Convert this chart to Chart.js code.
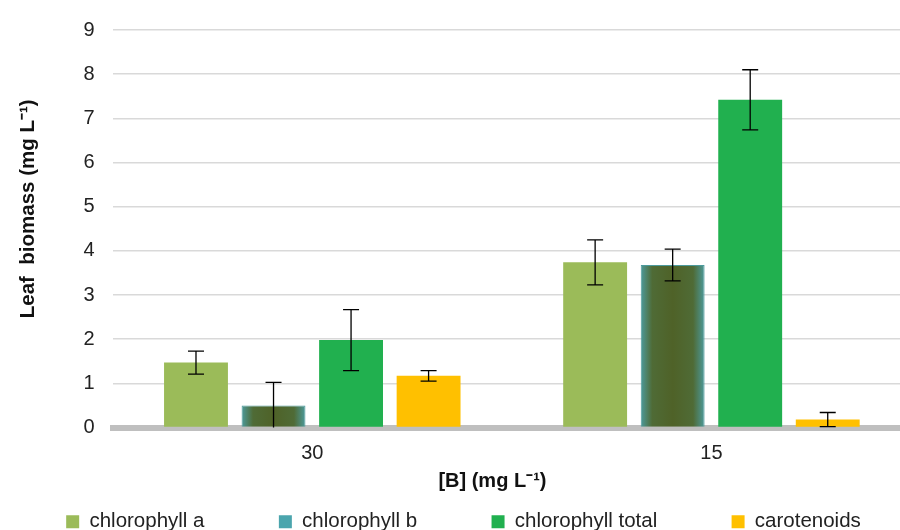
<!DOCTYPE html>
<html lang="en">
<head>
<meta charset="utf-8" />
<title>Leaf biomass</title>
<script src="https://cdn.jsdelivr.net/npm/chart.js@4.4.1/dist/chart.umd.min.js"></script>
<style>
  html, body { margin: 0; padding: 0; background: #fff; overflow: hidden; }
  #wrap { width: 916px; height: 542px; }
</style>
</head>
<body>
<div id="wrap"><canvas id="chart"></canvas></div>
<script>
  const categories = ["30", "15"];
  const chlA = [1.47, 3.74];
  const chlAErr = [0.26, 0.51];
  const chlB = [0.5, 3.68];
  const chlBErr = [0.52, 0.36];
  const chlTotal = [1.98, 7.42];
  const chlTotalErr = [0.69, 0.68];
  const carot = [1.17, 0.18];
  const carotErr = [0.12, 0.16];
  const yTicks = [0, 1, 2, 3, 4, 5, 6, 7, 8, 9];

  const FONT = "Arial, 'Liberation Sans', sans-serif";
  const TEXT = "#222";

  // chlorophyll b: teal edges fading into a dark olive centre
  function chlBFill(c) {
    const bar = c.chart.getDatasetMeta(1).data[c.dataIndex];
    if (!bar || !isFinite(bar.x) || !bar.width) return "#4f6228";
    const l = bar.x - bar.width / 2, r = bar.x + bar.width / 2;
    const g = c.chart.ctx.createLinearGradient(l, 0, r, 0);
    g.addColorStop(0, "#4c9a9c");
    g.addColorStop(0.18, "#4f6b36");
    g.addColorStop(0.5, "#4f6228");
    g.addColorStop(0.82, "#4f6b36");
    g.addColorStop(1, "#4c9a9c");
    return g;
  }

  const gradientFill = {
    id: "gradientFill",
    beforeDatasetsDraw(chart) {
      chart.getDatasetMeta(1).data.forEach((bar, j) => {
        bar.options.backgroundColor = chlBFill({ chart, dataIndex: j });
      });
    },
  };

  const errorBars = {
    id: "errorBars",
    afterDatasetsDraw(chart) {
      const ctx = chart.ctx;
      const y = chart.scales.y;
      ctx.save();
      ctx.strokeStyle = "#000";
      ctx.lineWidth = 1.3;
      chart.data.datasets.forEach((ds, i) => {
        chart.getDatasetMeta(i).data.forEach((bar, j) => {
          const v = ds.data[j], e = ds.errors[j];
          const top = y.getPixelForValue(v + e);
          const bot = y.getPixelForValue(Math.max(v - e, 0));
          ctx.beginPath();
          ctx.moveTo(bar.x, top); ctx.lineTo(bar.x, bot);
          ctx.moveTo(bar.x - 8, top); ctx.lineTo(bar.x + 8, top);
          if (v - e > 0) { ctx.moveTo(bar.x - 8, bot); ctx.lineTo(bar.x + 8, bot); }
          ctx.stroke();
        });
      });
      ctx.restore();
    },
  };

  const sp = (n) => " ".repeat(n);

  new Chart(document.getElementById("chart"), {
    type: "bar",
    data: {
      labels: categories,
      datasets: [
        { label: "chlorophyll a" + sp(12), data: chlA, errors: chlAErr, backgroundColor: "#9bbb59" },
        { label: "chlorophyll b" + sp(12), data: chlB, errors: chlBErr, backgroundColor: chlBFill, borderColor: "#4c9a9c", borderWidth: 1, legendColor: "#4ba5ad" },
        { label: "chlorophyll total" + sp(12), data: chlTotal, errors: chlTotalErr, backgroundColor: "#21b04f" },
        { label: "carotenoids", data: carot, errors: carotErr, backgroundColor: "#ffc000" },
      ],
    },
    options: {
      responsive: true,
      maintainAspectRatio: false,
      animation: false,
      layout: { padding: { top: 6, right: 5, left: 16, bottom: 0 } },
      datasets: { bar: { categoryPercentage: 0.777, barPercentage: 0.824 } },
      scales: {
        x: {
          grid: { display: false, drawTicks: false },
          border: { color: "#bfbfbf", width: 6 },
          ticks: { color: TEXT, font: { family: FONT, size: 20 }, padding: 14 },
          title: {
            display: true,
            text: "[B] (mg L⁻¹)" + sp(7),
            color: "#111",
            font: { family: FONT, size: 20, weight: "bold" },
            padding: { top: -10, bottom: 12 },
          },
        },
        y: {
          min: 0,
          max: 9,
          afterBuildTicks: (axis) => { axis.ticks = yTicks.map((v) => ({ value: v })); },
          grid: { color: "#d9d9d9", lineWidth: 1.5, drawTicks: false },
          border: { display: false },
          ticks: { color: TEXT, font: { family: FONT, size: 20 }, padding: 18 },
          title: {
            display: true,
            text: sp(7) + "Leaf  biomass (mg L⁻¹)",
            color: "#111",
            font: { family: FONT, size: 20.5, weight: "bold" },
            padding: { top: 0, bottom: 25 },
          },
        },
      },
      plugins: {
        tooltip: { enabled: false },
        legend: {
          position: "bottom",
          labels: {
            boxWidth: 13,
            boxHeight: 13,
            padding: 6,
            color: TEXT,
            font: { family: FONT, size: 20.5 },
            generateLabels: (chart) =>
              chart.data.datasets.map((ds, i) => ({
                text: ds.label,
                fillStyle: ds.legendColor || ds.backgroundColor,
                strokeStyle: ds.legendColor || ds.backgroundColor,
                lineWidth: 0,
                datasetIndex: i,
                fontColor: TEXT,
              })),
          },
        },
      },
    },
    plugins: [gradientFill, errorBars],
  });
</script>
</body>
</html>
